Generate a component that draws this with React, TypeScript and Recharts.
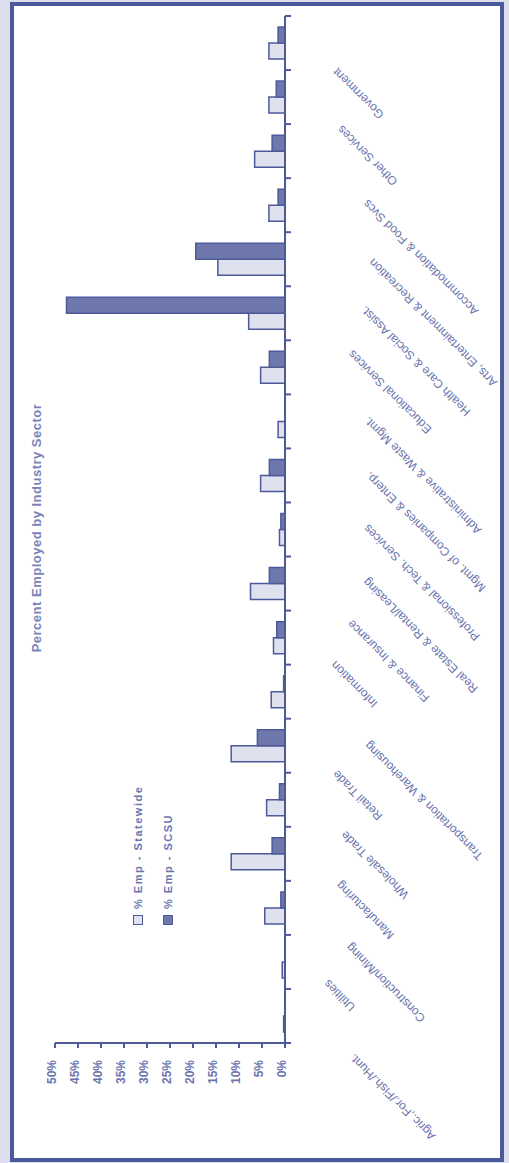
import { BarChart, Bar, XAxis, YAxis, Legend } from 'recharts';

// NAICS sectors, left to right in the unrotated chart (bottom to top on the page)
const sectors = [
  'Agric.,For./Fish./Hunt.',
  'Utilities',
  'Construction/Mining',
  'Manufacturing',
  'Wholesale Trade',
  'Retail Trade',
  'Transportation & Warehousing',
  'Information',
  'Finance & Insurance',
  'Real Estate & Rental/Leasing',
  'Professional & Tech. Services',
  'Mgmt. of Companies & Enterp.',
  'Administrative & Waste Mgmt.',
  'Educational Services',
  'Health Care & Social Assist.',
  'Arts, Entertainment & Recreation',
  'Accommodation & Food Svcs',
  'Other Services',
  'Government',
];

const statewide = [0.3, 0.6, 4.4, 11.7, 4.0, 11.7, 3.0, 2.5, 7.5, 1.2, 5.3, 1.5, 5.3, 7.9, 14.6, 3.5, 6.6, 3.5, 3.5];
const scsu = [0, 0, 0.9, 2.8, 1.2, 6.0, 0.3, 1.8, 3.4, 0.9, 3.4, 0, 3.4, 47.5, 19.4, 1.5, 2.8, 1.9, 1.5];
const pctTicks = [0, 5, 10, 15, 20, 25, 30, 35, 40, 45, 50];

const data = sectors.map((sector, i) => ({ sector, statewide: statewide[i], scsu: scsu[i] }));

// chart is drawn landscape, then turned a quarter turn counter-clockwise
const W = 1163;
const H = 509;
const FRAME = '#4a599b';
const AXIS = '#4d5999';
const TEXT = '#6a74ae';
const DARK = '#6e78ac';
const LIGHT = '#dfe1ee';
const margin = { top: 55, right: 16, bottom: 24, left: 0 };
const Y_AXIS_W = 120;
const X_AXIS_H = 200;
const band = (W - margin.left - margin.right - Y_AXIS_W) / sectors.length;

let ctx: CanvasRenderingContext2D | null = null;
function textWidth(s: string) {
  if (!ctx) ctx = document.createElement('canvas').getContext('2d');
  if (!ctx) return s.length * 6;
  ctx.font = '12px Arial';
  return ctx.measureText(s).width;
}

function SectorTick({ x, y, payload, index }: any) {
  const len = textWidth(payload.value);
  const ax = x - 7 - 0.26 * len;
  const ay = y + 31 + 0.33 * len;
  const left = x - band / 2;
  const right = x + band / 2;
  return (
    <g>
      <line x1={left} x2={left} y1={y} y2={y + 6} stroke={AXIS} strokeWidth={2} />
      {index === sectors.length - 1 && (
        <line x1={right} x2={right} y1={y} y2={y + 6} stroke={AXIS} strokeWidth={2} />
      )}
      <text
        x={ax}
        y={ay}
        transform={`rotate(-45 ${ax} ${ay})`}
        textAnchor="end"
        fontSize={12}
        fontFamily="Arial, sans-serif"
        fill={TEXT}
      >
        {payload.value}
      </text>
    </g>
  );
}

function PctTick({ x, y, payload }: any) {
  return (
    <text x={x} y={y + 1} textAnchor="end" fontSize={12} fontWeight="bold" fontFamily="Arial, sans-serif" fill={TEXT}>
      {payload.value}%
    </text>
  );
}

function SeriesLegend() {
  const rows = [
    { label: '% Emp - Statewide', fill: LIGHT },
    { label: '% Emp - SCSU', fill: DARK },
  ];
  return (
    <div>
      {rows.map((r) => (
        <div key={r.label} style={{ display: 'flex', alignItems: 'center', height: 10, marginBottom: 20 }}>
          <span
            style={{
              display: 'inline-block',
              width: 10,
              height: 10,
              boxSizing: 'border-box',
              border: `1.5px solid ${AXIS}`,
              background: r.fill,
            }}
          />
          <span
            style={{
              marginLeft: 6,
              fontSize: 11,
              fontWeight: 'bold',
              letterSpacing: 1.5,
              color: TEXT,
              fontFamily: 'Arial, sans-serif',
              whiteSpace: 'nowrap',
            }}
          >
            {r.label}
          </span>
        </div>
      ))}
    </div>
  );
}

export default function App() {
  return (
    <div style={{ position: 'fixed', left: 0, top: 0, width: H, height: W, background: '#dcdfeb', overflow: 'hidden' }}>
      <div
        style={{
          position: 'absolute',
          left: 10,
          top: 2,
          width: 494,
          height: 1160,
          boxSizing: 'border-box',
          border: `4px solid ${FRAME}`,
          background: '#fff',
        }}
      />
      <div
        style={{
          position: 'absolute',
          left: 0,
          top: 0,
          width: W,
          height: H,
          transformOrigin: '0 0',
          transform: `translateY(${W}px) rotate(-90deg)`,
        }}
      >
        <div
          style={{
            position: 'absolute',
            left: 435,
            width: 400,
            top: 29,
            lineHeight: '15px',
            textAlign: 'center',
            fontSize: 13,
            fontWeight: 'bold',
            letterSpacing: 0.5,
            color: '#7a83b8',
            fontFamily: 'Arial, sans-serif',
          }}
        >
          Percent Employed by Industry Sector
        </div>
        <BarChart width={W} height={H} data={data} margin={margin} barSize={16} barGap={0}>
          <XAxis
            dataKey="sector"
            interval={0}
            height={X_AXIS_H}
            tickLine={false}
            tickSize={0}
            tickMargin={0}
            axisLine={{ stroke: AXIS, strokeWidth: 2 }}
            tick={<SectorTick />}
          />
          <YAxis
            type="number"
            domain={[0, 50]}
            ticks={pctTicks}
            interval={0}
            width={Y_AXIS_W}
            tickSize={5}
            tickMargin={12}
            axisLine={{ stroke: AXIS, strokeWidth: 2 }}
            tickLine={{ stroke: AXIS, strokeWidth: 2 }}
            tick={<PctTick />}
          />
          <Legend
            layout="vertical"
            align="center"
            verticalAlign="middle"
            wrapperStyle={{ left: 238, top: 133, width: 'auto', height: 'auto' }}
            content={<SeriesLegend />}
          />
          <Bar dataKey="statewide" name="% Emp - Statewide" fill={LIGHT} stroke={AXIS} strokeWidth={1.5} isAnimationActive={false} />
          <Bar dataKey="scsu" name="% Emp - SCSU" fill={DARK} stroke={AXIS} strokeWidth={1.5} isAnimationActive={false} />
        </BarChart>
      </div>
    </div>
  );
}
